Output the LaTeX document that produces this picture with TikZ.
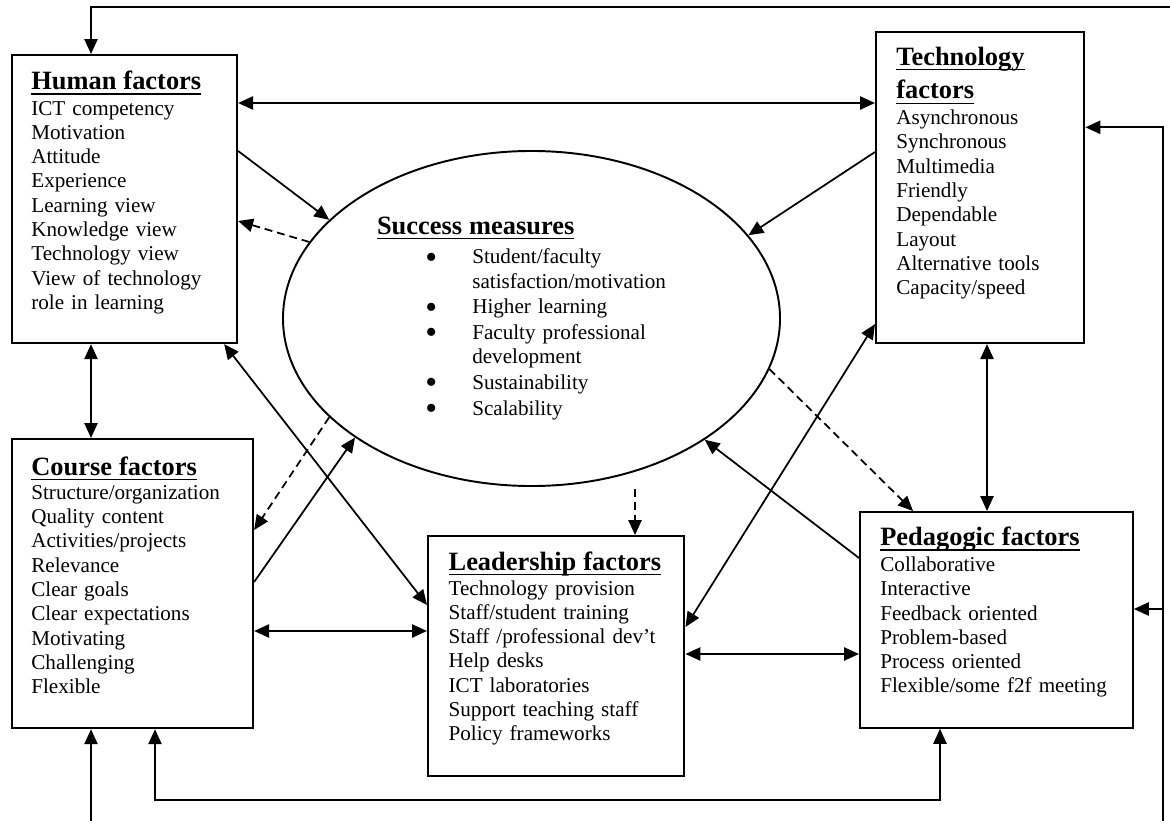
\documentclass[tikz,border=0pt]{standalone}
\usepackage{fontspec}
\usepackage{graphicx}
\setmainfont{Liberation Serif}
\usetikzlibrary{arrows.meta, calc, shapes.geometric}

% underlined box heading
\newcommand{\head}[1]{\leavevmode{\fontsize{15}{18}\selectfont\bfseries\setbox0\hbox{#1}\rlap{\rule[-3.1pt]{\wd0}{1pt}}\box0}}
% bullet items in the ellipse
\newcommand{\bul}{\hspace*{27.4pt}\makebox[26.7pt][l]{\smash{\raisebox{-2.4pt}{\scalebox{1.6}{\textbullet}}}}}
\newcommand{\cont}{\hspace*{54.1pt}}

\begin{document}
\begin{tikzpicture}[
  x=0.568pt, y=-0.568pt,
  factor/.style={rectangle, draw, line width=1.2pt, anchor=north west, inner sep=0pt},
  measure/.style={ellipse, draw, line width=1.1pt, inner sep=0pt,
    minimum width=282.3pt, minimum height=190.3pt},
  list/.style={anchor=base west, inner sep=0pt, text width=150pt, align=left,
    font=\fontsize{12}{13.8}\selectfont},
  oneway/.style={-{Triangle[length=8.5pt,width=7.5pt]}, line width=1pt},
  twoway/.style={{Triangle[length=8.5pt,width=7.5pt]}-{Triangle[length=8.5pt,width=7.5pt]}, line width=1pt},
  dashway/.style={oneway, dash pattern=on 4.5pt off 2.8pt}
]
  \useasboundingbox (0,0) rectangle (1170,821);

  % boxes
  \node[factor, minimum width=127.8pt, minimum height=163.6pt] (human) at (11,54) {};
  \node[factor, minimum width=136.9pt, minimum height=164.2pt] (course) at (11,438) {};
  \node[factor, minimum width=118.3pt, minimum height=176.8pt] (tech) at (875,30.7) {};
  \node[factor, minimum width=145.6pt, minimum height=136.3pt] (lead) at (427,535) {};
  \node[factor, minimum width=154.9pt, minimum height=122.5pt] (ped) at (859,511) {};
  \node[measure] (success) at (531.5,318.5) {};

  % box texts
  \node[list] (humantxt) at ($(human.north west)+(20,35.3)$) {\head{Human factors}\\[0.8pt]
    ICT competency\\ Motivation\\ Attitude\\ Experience\\ Learning view\\
    Knowledge view\\ Technology view\\ View of technology\\ role in learning};
  \node[list] (coursetxt) at ($(course.north west)+(20,37)$) {\head{Course factors}\\
    Structure/organization\\ Quality content\\ Activities/projects\\ Relevance\\
    Clear goals\\ Clear expectations\\ Motivating\\ Challenging\\ Flexible};
  \node[list] (techtxt) at ($(tech.north west)+(21,34.3)$) {\head{Technology}\\[4.4pt]
    \head{factors}\\[0.8pt]
    Asynchronous\\ Synchronous\\ Multimedia\\ Friendly\\ Dependable\\ Layout\\
    Alternative tools\\ Capacity/speed};
  \node[list] (leadtxt) at ($(lead.north west)+(21.3,35)$) {\head{Leadership factors}\\[0.4pt]
    Technology provision\\ Staff/student training\\ Staff /professional dev’t\\
    Help desks\\ ICT laboratories\\ Support teaching staff\\ Policy frameworks};
  \node[list] (pedtxt) at ($(ped.north west)+(21,34.7)$) {\head{Pedagogic factors}\\[0.8pt]
    Collaborative\\ Interactive\\ Feedback oriented\\ Problem-based\\
    Process oriented\\ Flexible/some f2f meeting};
  \node[list, text width=200pt] (successtxt) at ($(success.center)+(-154.8,-84.5)$)
    {\head{Success measures}\\[3.2pt]
    \bul Student/faculty\\ \cont satisfaction/motivation\\[0.8pt]
    \bul Higher learning\\[0.8pt]
    \bul Faculty professional\\ \cont development\\[0.8pt]
    \bul Sustainability\\[0.8pt]
    \bul Scalability};

  % links between the factors and the measures
  \draw[twoway] ($(human.north east)+(0,49)$) -- ($(tech.north west)+(0,72.3)$);
  \draw[oneway] ($(human.north east)+(0,97)$) -- (success.154.4);
  \draw[dashway] (success.161.4) -- ($(human.north east)+(0,167)$);
  \draw[twoway] ($(human.south west)+(80,0)$) -- ($(course.north west)+(80,0)$);
  \draw[twoway] ($(human.south east)+(-14,0)$) -- ($(lead.north west)+(0,70)$);
  \draw[dashway] (success.206) -- ($(course.north east)+(0,92)$);
  \draw[oneway] ($(course.north east)+(0,144)$) -- (success.214.1);
  \draw[twoway] ($(course.north east)+(0,193)$) -- ($(lead.north west)+(0,96)$);
  \draw[dashway] ($(success.south)+(103.5,2)$) -- ($(lead.north west)+(208,0)$);
  \draw[oneway] ($(tech.north west)+(0,121.3)$) -- (success.21.1);
  \draw[twoway] ($(lead.north east)+(0,92)$) -- ($(tech.south west)+(0,-20)$);
  \draw[dashway] (success.348.5) -- ($(ped.north west)+(54,0)$);
  \draw[oneway] ($(ped.north west)+(0,47)$) -- (success.325.9);
  \draw[twoway] ($(tech.south west)+(112,0)$) -- ($(ped.north west)+(128,0)$);
  \draw[twoway] ($(lead.north east)+(0,119)$) -- ($(ped.north west)+(0,143)$);

  % outer feedback lines
  \coordinate (topend) at (1170,6.7);
  \coordinate (lowleft) at (91,821);
  \coordinate (lowright) at (1163,821);
  \draw[oneway] (topend) -| ($(human.north west)+(80,0)$);
  \draw[oneway] (lowleft) -- ($(course.south west)+(80,0)$);
  \draw[twoway] ($(course.south west)+(144,0)$) -- ++(0,71) -| ($(ped.south west)+(81,0)$);
  \draw[oneway] (lowright) |- ($(tech.north east)+(0,96.6)$);
  \path ($(ped.north east)+(0,98)$) coordinate (pedin);
  \draw[oneway] (pedin -| lowright) -- (pedin);
\end{tikzpicture}
\end{document}
